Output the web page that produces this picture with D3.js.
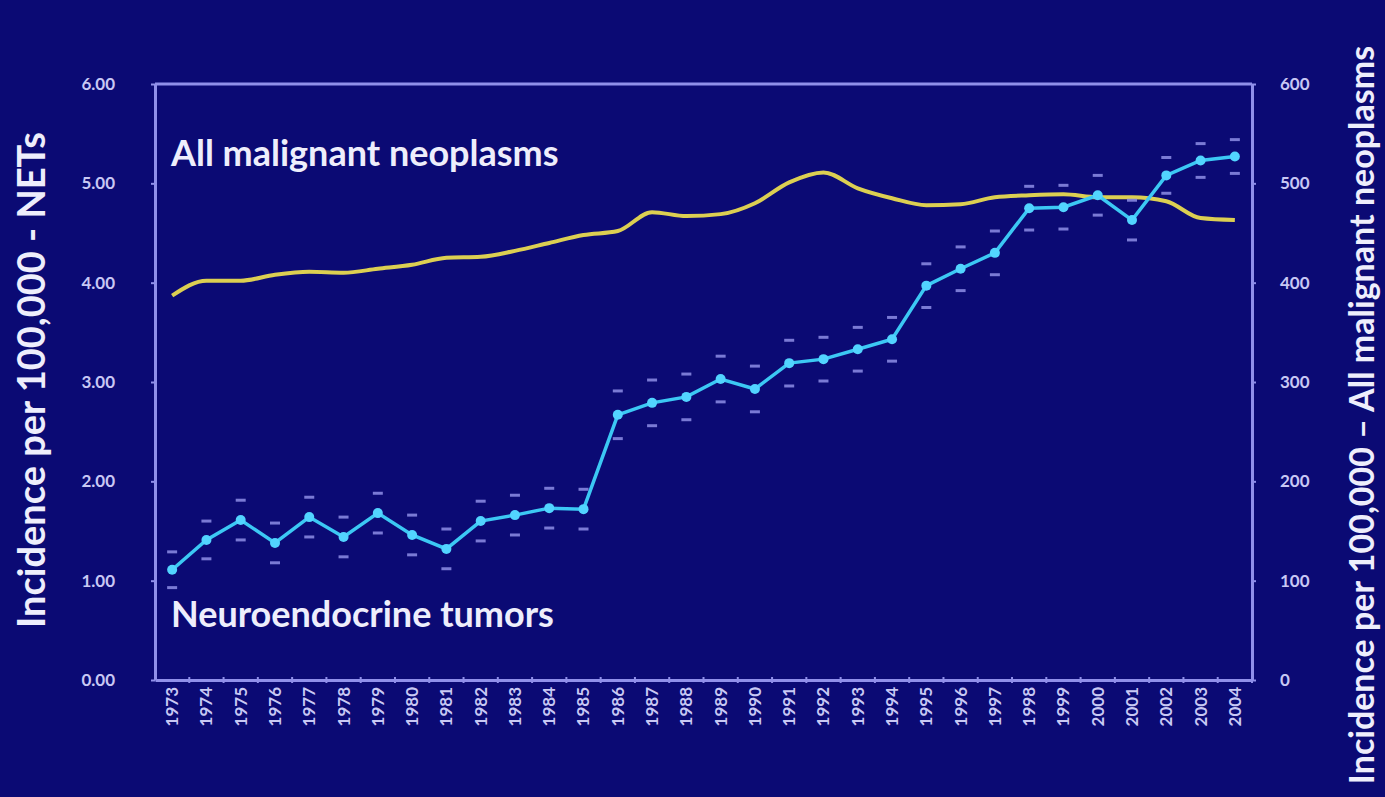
<!DOCTYPE html>
<html>
<head>
<meta charset="utf-8">
<script src="https://cdn.jsdelivr.net/npm/d3@7"></script>
<style>
  body { margin: 0; background: #0b0a74; }
  svg { display: block; }
  text { font-family: Lato, "Open Sans", sans-serif; }
</style>
</head>
<body>
<script>
var years = d3.range(1973, 2005).map(String);

// NETs incidence per 100,000 (left axis)
var netValues = [1.11, 1.41, 1.61, 1.38, 1.64, 1.44, 1.68, 1.46, 1.32, 1.60, 1.66, 1.73, 1.72,
  2.67, 2.79, 2.85, 3.03, 2.93, 3.19, 3.23, 3.33, 3.43, 3.97, 4.14, 4.30, 4.75, 4.76, 4.88,
  4.63, 5.08, 5.23, 5.27];
var netError = [0.18, 0.19, 0.2, 0.2, 0.2, 0.2, 0.2, 0.2, 0.2, 0.2, 0.2, 0.2, 0.2, 0.24, 0.23,
  0.23, 0.23, 0.23, 0.23, 0.22, 0.22, 0.22, 0.22, 0.22, 0.22, 0.22, 0.22, 0.2, 0.2, 0.18, 0.17, 0.17];

// All malignant neoplasms per 100,000 (right axis)
var allValues = [387, 402, 402, 408, 411, 410, 414, 418, 425, 426, 432, 440, 448, 452, 471, 467,
  469, 480, 501, 511, 495, 485, 478, 479, 486, 488, 489, 486, 486, 482, 465, 463];

var leftTicks = [0, 1, 2, 3, 4, 5, 6];
var rightTicks = [0, 100, 200, 300, 400, 500, 600];

var W = 1385, H = 797;
var margin = { top: 84, right: 133, bottom: 117, left: 155 };
var width = W - margin.left - margin.right,
  height = H - margin.top - margin.bottom;

var axisColor = "#9090ea", labelColor = "#c8c8f4", netColor = "#3cc8f4", allColor = "#dccf52";

var svg = d3.select("body").append("svg")
  .attr("width", W)
  .attr("height", H);

var g = svg.append("g")
  .attr("transform", "translate(" + margin.left + "," + margin.top + ")");

var x = d3.scaleBand().domain(years).range([0, width]);
var yL = d3.scaleLinear().domain([0, 6]).range([height, 0]);
var yR = d3.scaleLinear().domain([0, 600]).range([height, 0]);

// frame top
g.append("line")
  .attr("x1", 0).attr("x2", width).attr("y1", 0).attr("y2", 0)
  .attr("stroke", axisColor).attr("stroke-width", 3);

var xAxis = g.append("g")
  .attr("transform", "translate(0," + height + ")")
  .call(d3.axisBottom(x).tickSizeInner(0).tickSizeOuter(0));
xAxis.selectAll("text")
  .attr("transform", "rotate(-90)")
  .attr("x", -7).attr("y", 0).attr("dy", "0.35em")
  .style("text-anchor", "end");
// ticks between bands
xAxis.selectAll(".sep")
  .data(years)
  .enter().append("line")
  .attr("class", "sep")
  .attr("x1", function (d) { return x(d) + x.bandwidth(); })
  .attr("x2", function (d) { return x(d) + x.bandwidth(); })
  .attr("y1", -3).attr("y2", 3)
  .attr("stroke", axisColor).attr("stroke-width", 2);

var leftAxis = g.append("g")
  .call(d3.axisLeft(yL).tickValues(leftTicks).tickFormat(d3.format(".2f")).tickSize(4).tickSizeOuter(0).tickPadding(36));

var rightAxis = g.append("g")
  .attr("transform", "translate(" + width + ",0)")
  .call(d3.axisRight(yR).tickValues(rightTicks).tickSize(4).tickSizeOuter(0).tickPadding(24));

[xAxis, leftAxis, rightAxis].forEach(function (a) {
  a.select(".domain").attr("stroke", axisColor).attr("stroke-width", 3);
  a.selectAll(".tick line").attr("stroke", axisColor).attr("stroke-width", 2);
  a.selectAll("text").attr("fill", labelColor)
    .style("font-size", "17px").style("font-weight", "bold")
    .style("font-family", "Lato, sans-serif");
});

var cx = function (d, i) { return x(years[i]) + x.bandwidth() / 2; };

// all malignant neoplasms line
var allLine = d3.line()
  .x(cx)
  .y(function (d) { return yR(d); })
  .curve(d3.curveMonotoneX);

g.append("path")
  .datum(allValues)
  .attr("fill", "none")
  .attr("stroke", allColor)
  .attr("stroke-width", 4)
  .attr("d", allLine);

// error dashes
var errs = [];
netValues.forEach(function (v, i) {
  errs.push({ i: i, v: v + netError[i] });
  errs.push({ i: i, v: v - netError[i] });
});
g.selectAll(".err")
  .data(errs)
  .enter().append("line")
  .attr("class", "err")
  .attr("x1", function (d) { return cx(null, d.i) - 5; })
  .attr("x2", function (d) { return cx(null, d.i) + 5; })
  .attr("y1", function (d) { return yL(d.v); })
  .attr("y2", function (d) { return yL(d.v); })
  .attr("stroke", "#8e8ee6")
  .attr("stroke-width", 3)
  .attr("opacity", 0.85);

var netLine = d3.line()
  .x(cx)
  .y(function (d) { return yL(d); });

g.append("path")
  .datum(netValues)
  .attr("fill", "none")
  .attr("stroke", netColor)
  .attr("stroke-width", 3.5)
  .attr("d", netLine);

g.selectAll(".dot")
  .data(netValues)
  .enter().append("circle")
  .attr("class", "dot")
  .attr("cx", cx)
  .attr("cy", function (d) { return yL(d); })
  .attr("r", 5)
  .attr("fill", "#52d4ff");

// series labels
g.append("text")
  .attr("x", 16).attr("y", 82)
  .attr("fill", "#eeeefc")
  .style("font-size", "36px").style("font-weight", "bold")
  .text("All malignant neoplasms");

g.append("text")
  .attr("x", 16).attr("y", 543)
  .attr("fill", "#eeeefc")
  .style("font-size", "36px").style("font-weight", "bold")
  .text("Neuroendocrine tumors");

// axis titles
svg.append("text")
  .attr("transform", "translate(45,380) rotate(-90)")
  .attr("text-anchor", "middle")
  .attr("fill", "#eeeefc")
  .style("font-size", "38px").style("font-weight", "bold")
  .text("Incidence per 100,000 - NETs");

svg.append("text")
  .attr("transform", "translate(1374,415) rotate(-90)")
  .attr("text-anchor", "middle")
  .attr("fill", "#eeeefc")
  .style("font-size", "34px").style("font-weight", "bold")
  .text("Incidence per 100,000 \u2013 All malignant neoplasms");
</script>
</body>
</html>
